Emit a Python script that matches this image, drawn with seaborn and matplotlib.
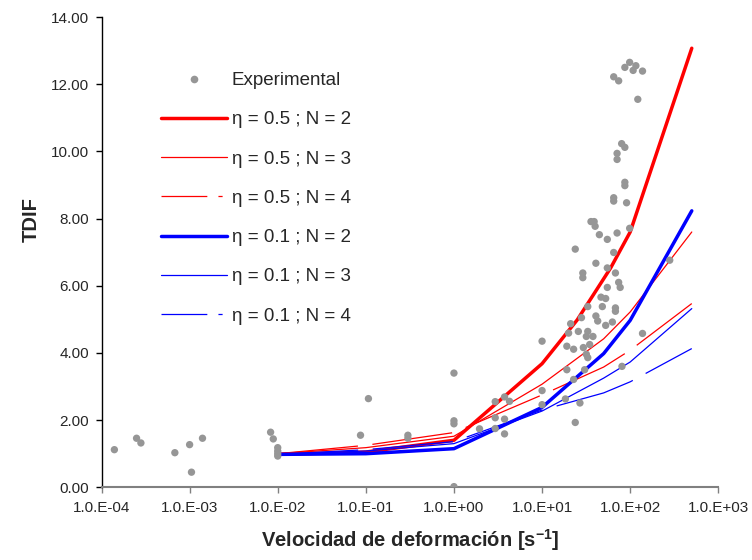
import matplotlib
matplotlib.use("Agg")
import matplotlib.pyplot as plt
from matplotlib.lines import Line2D
import seaborn as sns
import numpy as np

# ---------------- data ----------------
exp_rate = [1.4e-4, 2.5e-4, 2.8e-4, 6.8e-4, 1.0e-3, 1.4e-3, 1.05e-3, 8.3e-3, 8.9e-3,
            1.0e-2, 1.0e-2, 1.0e-2, 1.0e-2,
            0.087, 0.107, 0.30, 0.30,
            1.0, 1.0, 1.0, 1.0, 1.95,
            2.94, 2.94, 2.94, 3.75, 3.75, 3.75, 4.27,
            10, 10, 10,
            19.1, 18.4, 22.8, 26.9, 23.8, 30.4,
            20, 19.1, 22.8, 25.8, 21.1, 29.4, 31.8, 33, 31.8, 33, 37.8, 34.7,
            42.8, 52.7, 62.8, 80.7, 138,
            87, 87, 65, 65, 91,
            35.9, 39, 40, 44.7, 55, 71, 98.6,
            23.8, 65, 281,
            40.8, 55, 68, 29, 29, 74, 77, 55,
            46.6, 52.7, 48.3, 68, 68, 33, 28, 40.8,
            98.6, 87, 116, 108, 138, 65, 74, 122, 80, 87, 71, 71]
exp_tdif = [1.12, 1.46, 1.32, 1.03, 1.27, 1.46, 0.45, 1.64, 1.44,
            1.18, 1.08, 1.00, 0.93,
            1.55, 2.64, 1.55, 1.46,
            3.40, 1.98, 1.89, 0.02, 1.74,
            2.55, 2.07, 1.75, 2.69, 2.03, 1.59, 2.56,
            4.35, 2.88, 2.46,
            3.50, 2.63, 3.21, 2.51, 1.93, 3.50,
            4.59, 4.20, 4.11, 4.64, 4.87, 4.16, 3.96, 3.86, 4.49, 4.64, 4.49, 4.25,
            4.95, 4.82, 4.92, 3.60, 4.58,
            9.08, 8.98, 8.62, 8.52, 8.47,
            7.91, 7.91, 7.77, 7.52, 7.38, 7.57, 7.71,
            7.09, 6.99, 6.76,
            6.67, 6.53, 6.38, 6.38, 6.24, 6.10, 5.95, 5.95,
            5.66, 5.62, 5.38, 5.34, 5.24, 5.38, 5.05, 5.10,
            12.65, 12.50, 12.55, 12.41, 12.39, 12.22, 12.10, 11.55, 10.23, 10.12, 9.94, 9.76]

rate_r2 = [0.01, 0.1, 1, 10, 25, 60, 100, 500]
tdif_r2 = [0.98, 1.05, 1.40, 3.68, 4.98, 6.53, 7.60, 13.07]
rate_r3 = [0.01, 0.1, 1, 10, 50, 100, 500]
tdif_r3 = [1.00, 1.18, 1.52, 3.07, 4.42, 5.22, 7.60]
rate_r4 = [0.01, 0.1, 1, 10, 50, 100, 500]
tdif_r4 = [1.00, 1.25, 1.63, 2.75, 3.58, 4.08, 5.47]
rate_b2 = [0.01, 0.1, 1, 10, 50, 100, 500]
tdif_b2 = [0.98, 1.00, 1.15, 2.38, 3.98, 4.97, 8.23]
rate_b3 = [0.01, 0.1, 1, 10, 50, 100, 500]
tdif_b3 = [0.98, 1.08, 1.30, 2.27, 3.25, 3.73, 5.32]
rate_b4 = [0.01, 0.1, 1, 10, 50, 100, 500]
tdif_b4 = [0.98, 1.12, 1.36, 2.30, 2.81, 3.14, 4.13]

x_ticks = [1e-4, 1e-3, 1e-2, 1e-1, 1e0, 1e1, 1e2, 1e3]
x_tick_labels = ["1.0.E-04", "1.0.E-03", "1.0.E-02", "1.0.E-01",
                 "1.0.E+00", "1.0.E+01", "1.0.E+02", "1.0.E+03"]
y_ticks = [0, 2, 4, 6, 8, 10, 12, 14]
y_tick_labels = ["0.00", "2.00", "4.00", "6.00", "8.00", "10.00", "12.00", "14.00"]
legend_labels = ["Experimental", "η = 0.5 ; N = 2", "η = 0.5 ; N = 3", "η = 0.5 ; N = 4",
                 "η = 0.1 ; N = 2", "η = 0.1 ; N = 3", "η = 0.1 ; N = 4"]

# ---------------- style ----------------
sns.set_style("white")
plt.rcParams["font.family"] = ["Liberation Sans", "DejaVu Sans"]
plt.rcParams["lines.scale_dashes"] = False

RED = "#FF0000"
BLUE = "#0000FF"
GRAY = "#969696"
THICK = 2.5
THIN = 0.9
DASH_PLOT = (0, (58, 10.5))

fig = plt.figure(figsize=(7.52, 5.60), dpi=100)
ax = fig.add_axes([101.5 / 752, 1 - 487.3 / 560, (718.3 - 101.5) / 752, (487.3 - 17) / 560])

series = [
    (rate_r2, tdif_r2, RED, THICK, "-"),
    (rate_r3, tdif_r3, RED, THIN, "-"),
    (rate_r4, tdif_r4, RED, THIN, DASH_PLOT),
    (rate_b2, tdif_b2, BLUE, THICK, "-"),
    (rate_b3, tdif_b3, BLUE, THIN, "-"),
    (rate_b4, tdif_b4, BLUE, THIN, DASH_PLOT),
]
for xs, ys, c, lw, ls in series:
    sns.lineplot(x=xs, y=ys, ax=ax, color=c, linewidth=lw, linestyle=ls,
                 sort=False, estimator=None, zorder=3)

sns.scatterplot(x=exp_rate, y=exp_tdif, ax=ax, color=GRAY, s=28,
                edgecolor="none", linewidth=0, zorder=5, legend=False)

ax.set_xscale("log")
ax.set_xlim(1e-4, 1e3)
ax.set_ylim(0, 14)
ax.set_xticks(x_ticks)
ax.set_xticklabels(x_tick_labels)
ax.xaxis.set_minor_locator(matplotlib.ticker.NullLocator())
ax.set_yticks(y_ticks)
ax.set_yticklabels(y_tick_labels)

for s in ["top", "right"]:
    ax.spines[s].set_visible(False)
ax.spines["left"].set_color("#000000")
ax.spines["left"].set_linewidth(1.0)
ax.spines["bottom"].set_color("#808080")
ax.spines["bottom"].set_linewidth(1.5)
ax.tick_params(axis="x", which="major", direction="out", length=4, width=1,
               color="#808080", labelsize=11, pad=6, bottom=True)
ax.tick_params(axis="y", which="major", direction="out", length=4, width=1,
               color="#000000", labelsize=11, pad=5, left=True)

ax.set_xlabel("Velocidad de deformación [s$^{\\mathregular{-1}}$]", fontsize=14.5,
              fontweight="bold", va="center")
ax.xaxis.set_label_coords(0.501, (487.3 - 540) / 470.3)
ax.set_ylabel("TDIF", fontsize=14.5, fontweight="bold", va="center")
ax.yaxis.set_label_coords((31 - 101.5) / 616.8, (487.3 - 220) / 470.3)

handles = [
    Line2D([], [], linestyle="none", marker="o", markersize=5.5, color=GRAY, markeredgewidth=0),
    Line2D([], [], color=RED, lw=THICK),
    Line2D([], [], color=RED, lw=THIN),
    Line2D([], [], color=RED, lw=THIN, linestyle=(0, (33, 8, 3, 8))),
    Line2D([], [], color=BLUE, lw=THICK),
    Line2D([], [], color=BLUE, lw=THIN),
    Line2D([], [], color=BLUE, lw=THIN, linestyle=(0, (33, 8, 3, 8))),
]
leg = fig.legend(handles, legend_labels, loc="upper left",
                 bbox_to_anchor=(161 / 752, 1 - 72 / 560), frameon=False,
                 fontsize=13.5, handlelength=3.5, handletextpad=0.28,
                 labelspacing=1.18, borderpad=0, borderaxespad=0)

fig.savefig("out.png", dpi=100)
